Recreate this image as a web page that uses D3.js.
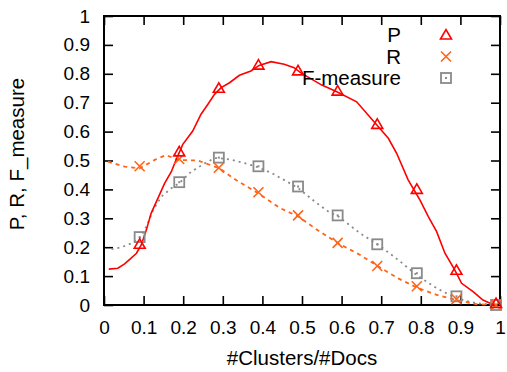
<!DOCTYPE html>
<html>
<head>
<meta charset="utf-8">
<script src="https://cdn.jsdelivr.net/npm/d3@7"></script>
<style>
  body { margin: 0; background: #fff; }
  text { font-family: "Liberation Sans", Arial, sans-serif; fill: #000; }
</style>
</head>
<body>
<div id="chart"></div>
<script>
var w = 507,
    h = 372;

var margin = {left: 104, right: 7, top: 16, bottom: 67};

// marker positions (#Clusters/#Docs)
var xMarks = [0.09, 0.19, 0.29, 0.39, 0.49, 0.59, 0.69, 0.79, 0.89, 0.99];
var pMarks = [0.21, 0.53, 0.75, 0.83, 0.81, 0.74, 0.625, 0.40, 0.12, 0.005];
var rMarks = [0.48, 0.505, 0.475, 0.39, 0.31, 0.215, 0.135, 0.065, 0.02, 0.0];
var fMarks = [0.235, 0.425, 0.51, 0.48, 0.41, 0.31, 0.21, 0.11, 0.03, 0.0];

// the curves drawn under the markers
var pCurve = [[0.012,0.124],[0.035,0.127],[0.052,0.142],[0.065,0.158],[0.082,0.179],[0.094,0.208],
  [0.107,0.26],[0.119,0.317],[0.136,0.369],[0.153,0.421],[0.170,0.461],[0.182,0.502],[0.199,0.556],
  [0.224,0.602],[0.245,0.66],[0.262,0.694],[0.279,0.729],[0.296,0.752],[0.317,0.769],[0.342,0.795],
  [0.371,0.810],[0.392,0.829],[0.422,0.842],[0.455,0.833],[0.480,0.821],[0.497,0.803],[0.521,0.784],
  [0.550,0.761],[0.588,0.738],[0.638,0.703],[0.689,0.623],[0.718,0.577],[0.739,0.525],[0.768,0.433],
  [0.798,0.363],[0.819,0.306],[0.840,0.254],[0.861,0.179],[0.886,0.121],[0.903,0.075],[0.932,0.046],
  [0.957,0.017],[0.982,0.002],[0.99,0.0]];
var rCurve = [[0.010,0.496],[0.052,0.479],[0.090,0.473],[0.128,0.502],[0.157,0.519],[0.186,0.502],
  [0.237,0.500],[0.269,0.484],[0.292,0.473],[0.327,0.438],[0.390,0.386],[0.445,0.335],[0.491,0.306],
  [0.538,0.260],[0.592,0.213],[0.647,0.173],[0.693,0.133],[0.743,0.092],[0.789,0.061],[0.840,0.035],
  [0.890,0.017],[0.94,0.003],[0.99,0.0]];
var fCurve = [[0.019,0.193],[0.044,0.2],[0.069,0.213],[0.090,0.231],[0.107,0.271],[0.124,0.329],
  [0.145,0.375],[0.170,0.404],[0.191,0.423],[0.220,0.461],[0.254,0.490],[0.279,0.508],[0.294,0.508],
  [0.323,0.502],[0.357,0.490],[0.390,0.476],[0.424,0.456],[0.462,0.427],[0.491,0.404],[0.533,0.357],
  [0.567,0.323],[0.592,0.306],[0.647,0.248],[0.693,0.208],[0.743,0.156],[0.789,0.104],[0.840,0.058],
  [0.890,0.023],[0.94,0.006],[0.99,0.0]];

var ticks = [0, 0.1, 0.2, 0.3, 0.4, 0.5, 0.6, 0.7, 0.8, 0.9, 1];
var tickLabels = ["0", "0.1", "0.2", "0.3", "0.4", "0.5", "0.6", "0.7", "0.8", "0.9", "1"];

var seriesNames = ["P", "R", "F-measure"];
var colors = ["#ff0000", "#ff6418", "#8a8a8a"];

var svg = d3.select("#chart")
            .append("svg")
            .attr("width", w)
            .attr("height", h);

var x = d3.scaleLinear().domain([0, 1]).range([margin.left, w - margin.right]);
var y = d3.scaleLinear().domain([0, 1]).range([h - margin.bottom, margin.top]);

var tickLen = 9;

// inward ticks on all four sides
function tickFmt(d, i) { return tickLabels[i]; }

svg.append("g")
   .attr("transform", "translate(0," + y(0) + ")")
   .call(d3.axisBottom(x).tickValues(ticks).tickSize(-tickLen).tickPadding(tickLen + 7).tickFormat(tickFmt))
   .call(styleAxis);
svg.append("g")
   .attr("transform", "translate(0," + y(1) + ")")
   .call(d3.axisTop(x).tickValues(ticks).tickSize(-tickLen).tickFormat(""))
   .call(styleAxis);
svg.append("g")
   .attr("transform", "translate(" + x(0) + ",0)")
   .call(d3.axisLeft(y).tickValues(ticks).tickSize(-tickLen).tickPadding(tickLen + 5).tickFormat(tickFmt))
   .call(styleAxis);
svg.append("g")
   .attr("transform", "translate(" + x(1) + ",0)")
   .call(d3.axisRight(y).tickValues(ticks).tickSize(-tickLen).tickFormat(""))
   .call(styleAxis);

function styleAxis(g) {
  g.select(".domain").remove();
  g.selectAll(".tick line").attr("stroke", "#000").attr("stroke-width", 1.6);
  g.selectAll(".tick text").attr("font-size", "19px").attr("fill", "#000")
   .attr("font-family", "Liberation Sans, Arial, sans-serif");
}

// frame
svg.append("rect")
   .attr("x", x(0))
   .attr("y", y(1))
   .attr("width", x(1) - x(0))
   .attr("height", y(0) - y(1))
   .attr("fill", "none")
   .attr("stroke", "#000")
   .attr("stroke-width", 2);

var line = d3.line()
             .x(function(d) { return x(d[0]); })
             .y(function(d) { return y(d[1]); });

svg.append("path").datum(fCurve)
   .attr("d", line).attr("fill", "none")
   .attr("stroke", colors[2]).attr("stroke-width", 1.8).attr("stroke-dasharray", "2,4");
svg.append("path").datum(rCurve)
   .attr("d", line).attr("fill", "none")
   .attr("stroke", colors[1]).attr("stroke-width", 1.8).attr("stroke-dasharray", "4,4");
svg.append("path").datum(pCurve)
   .attr("d", line).attr("fill", "none")
   .attr("stroke", colors[0]).attr("stroke-width", 1.6);

// marker shapes
function triangle(g, cx, cy) {
  g.append("path")
   .attr("d", "M" + (cx - 5.5) + "," + (cy + 4) + "L" + cx + "," + (cy - 5.5) + "L" + (cx + 5.5) + "," + (cy + 4) + "Z")
   .attr("fill", "none").attr("stroke", colors[0]).attr("stroke-width", 1.6);
}
function cross(g, cx, cy) {
  g.append("path")
   .attr("d", "M" + (cx - 5) + "," + (cy - 5) + "L" + (cx + 5) + "," + (cy + 5) +
              "M" + (cx - 5) + "," + (cy + 5) + "L" + (cx + 5) + "," + (cy - 5))
   .attr("fill", "none").attr("stroke", colors[1]).attr("stroke-width", 1.6);
}
function square(g, cx, cy) {
  g.append("rect")
   .attr("x", cx - 5).attr("y", cy - 5).attr("width", 10).attr("height", 10)
   .attr("fill", "none").attr("stroke", colors[2]).attr("stroke-width", 1.8);
  g.append("rect")
   .attr("x", cx - 1).attr("y", cy - 1).attr("width", 2).attr("height", 2)
   .attr("fill", colors[2]);
}
var shapes = [triangle, cross, square];

var markG = svg.append("g");
xMarks.forEach(function(d, i) {
  square(markG, x(d), y(fMarks[i]));
  cross(markG, x(d), y(rMarks[i]));
  triangle(markG, x(d), y(pMarks[i]));
});

// legend
var legend = svg.append("g");
seriesNames.forEach(function(name, i) {
  var by = 42 + i * 21.5;
  legend.append("text")
        .attr("x", 401)
        .attr("y", by)
        .attr("text-anchor", "end")
        .attr("font-size", "20.5px")
        .text(name);
  shapes[i](legend, 446, by - 7);
});

// axis titles
svg.append("text")
   .attr("x", (x(0) + x(1)) / 2)
   .attr("y", 365)
   .attr("text-anchor", "middle")
   .attr("font-size", "20.5px")
   .text("#Clusters/#Docs");

svg.append("text")
   .attr("transform", "translate(24," + 154 + ") rotate(-90)")
   .attr("text-anchor", "middle")
   .attr("font-size", "20.5px")
   .text("P, R, F_measure");
</script>
</body>
</html>
